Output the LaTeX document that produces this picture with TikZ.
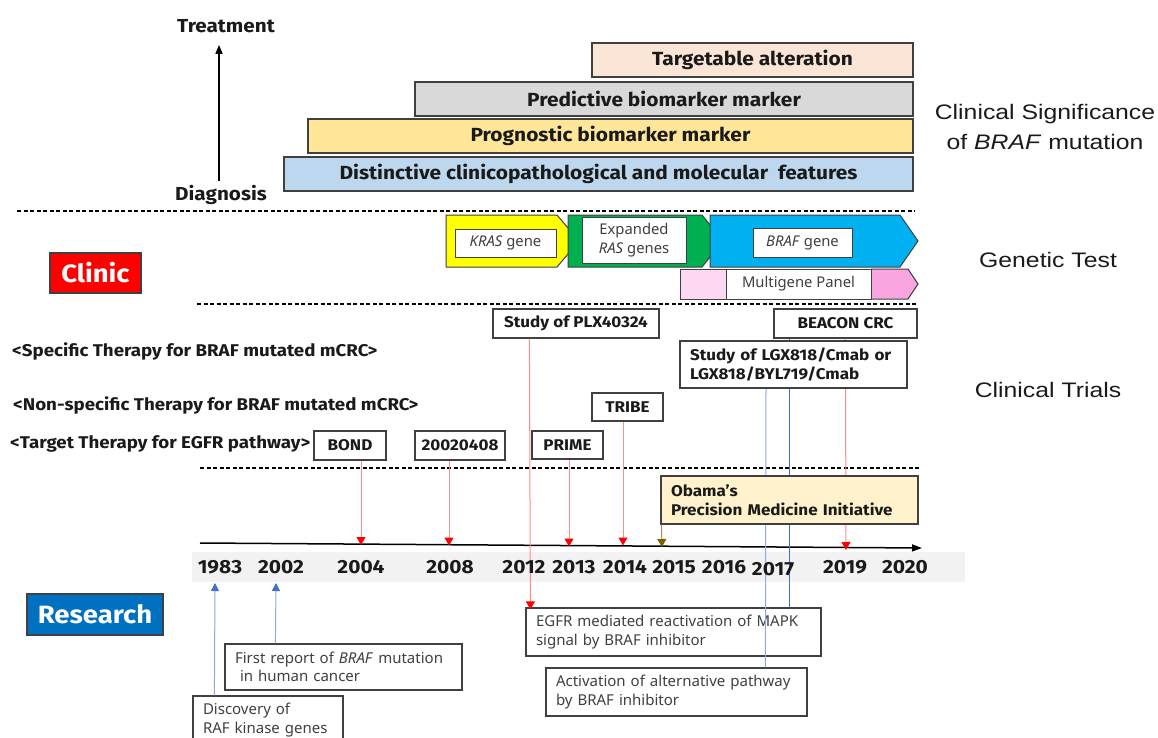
\documentclass[tikz,border=0pt]{standalone}
\usepackage{fontspec}
\setmainfont{Fira Sans}[FakeStretch=1.1]
\newfontfamily\arialf{Liberation Sans}[FakeStretch=1.18]
\newfontfamily\regf{Noto Sans}
\usetikzlibrary{arrows.meta}
\definecolor{bd}{HTML}{404040}
\definecolor{txt}{HTML}{1A1A1A}
\definecolor{peach}{HTML}{FBE5D6}
\definecolor{lgray}{HTML}{D9D9D9}
\definecolor{lyel}{HTML}{FFE699}
\definecolor{lblue}{HTML}{BDD7EE}
\definecolor{kyel}{HTML}{FFFF00}
\definecolor{kgreen}{HTML}{00B050}
\definecolor{kblue}{HTML}{00B0F0}
\definecolor{pink1}{HTML}{FCD8F2}
\definecolor{pink2}{HTML}{F9A6E0}
\definecolor{clinicred}{HTML}{FF0000}
\definecolor{resblue}{HTML}{0070C0}
\definecolor{obama}{HTML}{FFF2CC}
\definecolor{band}{HTML}{F2F2F2}
\definecolor{redln}{HTML}{FF8A8A}
\definecolor{redhd}{HTML}{FF0000}
\definecolor{bluelt}{HTML}{8FAADC}
\definecolor{bluedk}{HTML}{3F6FD0}
\definecolor{brownln}{HTML}{A89060}
\definecolor{brownhd}{HTML}{7F6000}
\newcommand\rbox[7]{\node[#6, minimum width={(#4-#2)*1pt}, minimum height={(#5-#3)*1pt}] (#1) at ({(#2+#4)/2},{(#3+#5)/2}) {#7};}
\newcommand\lbox[7]{\node[#6, inner xsep=10pt, text width={(#4-#2-20)*1pt}, minimum height={(#5-#3)*1pt}] (#1) at ({(#2+#4)/2},{(#3+#5)/2}) {#7};}
\begin{document}
\begin{tikzpicture}[x=1pt,y=-1pt,
  bar/.style={draw=bd, line width=1.3pt, inner sep=0pt, text=txt, font=\fontsize{19}{20}\selectfont\bfseries},
  hdr/.style={text=txt, inner sep=0pt, font=\fontsize{18.8}{20}\selectfont\bfseries},
  sect/.style={text=txt, inner sep=0pt, align=center, font=\arialf\fontsize{21}{30}\selectfont},
  tag/.style={draw=bd, line width=1.2pt, inner sep=0pt, text=white, font=\fontsize{25}{28}\selectfont\bfseries},
  cat/.style={text=txt, inner sep=0pt, anchor=west, font=\fontsize{17}{18}\selectfont\bfseries},
  trial/.style={draw=bd, fill=white, line width=1.2pt, inner sep=0pt, text=txt, font=\fontsize{15.5}{18.5}\selectfont\bfseries},
  trialL/.style={trial, align=left},
  gene/.style={draw=bd, fill=white, line width=1pt, inner sep=0pt, text=bd, align=center, font=\regf\fontsize{14.8}{18.5}\selectfont},
  res/.style={draw=bd, fill=white, line width=1.2pt, inner ysep=0pt, text=bd, align=left, font=\regf\fontsize{15}{18.5}\selectfont},
  year/.style={text=txt, inner sep=0pt, font=\fontsize{19}{20}\selectfont\bfseries},
  dashsep/.style={line width=1.3pt, dash pattern=on 4pt off 2.5pt},
  rl/.style={draw=redln, line width=1pt, -{Triangle[width=9pt,length=8pt,color=redhd]}},
  bl/.style={draw=bluelt, line width=1pt},
  bdk/.style={draw=bluedk, line width=1pt},
  blu/.style={draw=bluelt, line width=1pt, -{Triangle[width=8pt,length=8pt,color=bluedk]}},
  brl/.style={draw=brownln, line width=1pt, -{Triangle[width=9pt,length=8pt,color=brownhd]}},
]
\useasboundingbox (0,0) rectangle (1158,738);

% ---- Clinical significance ----
\node[hdr] (treat) at (226,26) {Treatment};
\node[hdr] (diag) at (221,195) {Diagnosis};
\draw[line width=1.5pt, -{Triangle[width=7pt,length=9pt]}] ([xshift=-2pt,yshift=4pt]diag.north) -- ([xshift=-7pt,yshift=-12pt]treat.south);

\rbox{targ}{592}{43}{913}{77}{bar, fill=peach}{Targetable alteration}
\rbox{pred}{415}{82}{913}{116}{bar, fill=lgray}{Predictive biomarker marker}
\rbox{prog}{308}{119}{913}{153}{bar, fill=lyel}{Prognostic biomarker marker}
\rbox{dist}{284}{157}{913}{191}{bar, fill=lblue}{Distinctive clinicopathological and molecular\ \ features}

\node[sect] (cs) at (1045,127) {Clinical Significance\\of \textit{BRAF} mutation};

% ---- separators ----
\coordinate (d1a) at (17,211); \coordinate (d1b) at (915,211);
\coordinate (d2a) at (197,304); \coordinate (d2b) at (917,304);
\coordinate (d3a) at (200,468); \coordinate (d3b) at (921,468);
\draw[dashsep] (d1a) -- (d1b);
\draw[dashsep] (d2a) -- (d2b);
\draw[dashsep] (d3a) -- (d3b);

% ---- Clinic / Research tags ----
\rbox{clinic}{50}{253}{141}{293}{tag, fill=clinicred}{Clinic}
\rbox{research}{27}{594}{163}{635}{tag, fill=resblue}{Research}

% ---- Genetic test ----
\draw[draw=bd, line width=1pt, fill=kyel] (446,215) -- (557,215) -- (579,241) -- (557,267) -- (446,267) -- cycle;
\draw[draw=bd, line width=1pt, fill=kgreen] (568,215) -- (702,215) -- (723,241) -- (702,267) -- (568,267) -- cycle;
\draw[draw=bd, line width=1pt, fill=kblue] (710,215) -- (900,215) -- (918,241) -- (900,267) -- (710,267) -- cycle;
\rbox{kras}{455}{229}{556}{257}{gene}{\textit{KRAS} gene}
\rbox{eras}{582}{217}{686}{263}{gene}{Expanded\\\textit{RAS} genes}
\rbox{braf}{753}{228}{852}{257}{gene}{\textit{BRAF} gene}

\fill[pink1] (680,269) rectangle (726,299);
\fill[pink2] (871,269) -- (908,269) -- (918,284) -- (908,299) -- (871,299) -- cycle;
\rbox{mgp}{726}{269}{871}{299}{gene}{Multigene Panel}
\draw[draw=bd, line width=1pt] (726,269) -- (680,269) -- (680,299) -- (726,299);
\draw[draw=bd, line width=1pt] (871,269) -- (908,269) -- (918,284) -- (908,299) -- (871,299);

\node[sect] (gt) at (1048,260) {Genetic Test};
\node[sect] (ct) at (1048,390) {Clinical Trials};

% ---- category labels ----
\node[cat] (c1) at (12,351) {<Specific Therapy for BRAF mutated mCRC>};
\node[cat] (c2) at (13,405) {<Non-specific Therapy for BRAF mutated mCRC>};
\node[cat] (c3) at (10,444) {<Target Therapy for EGFR pathway>};

% ---- timeline band & axis ----
\fill[band] (192,552) rectangle (965,582);
\coordinate (ax0) at (200,543);
\coordinate (ax1) at (922,548);
\draw[line width=1.5pt, -{Triangle[width=7pt,length=10pt]}] (ax0) -- (ax1);

% axis target points
\coordinate (t2004) at (361,545);
\coordinate (t2008) at (449,545.5);
\coordinate (t2013) at (569,546.5);
\coordinate (t2014) at (623,545.5);
\coordinate (t2015) at (662,547);
\coordinate (t2019) at (846,550);

% ---- research boxes ----
\lbox{first}{225}{644}{462}{690}{res}{First report of \textit{BRAF} mutation\\\ in human cancer}
\lbox{disc}{193}{696}{343}{744}{res}{Discovery of\\RAF kinase genes}
\lbox{egfr}{526}{608}{821}{656}{res}{EGFR mediated reactivation of MAPK\\signal by BRAF inhibitor}
\lbox{act}{546}{668}{807}{716}{res}{Activation of alternative pathway\\by BRAF inhibitor}

% ---- trial boxes ----
\rbox{bond}{314}{431}{386}{460}{trial}{BOND}
\rbox{b2002}{415}{431}{505}{460}{trial}{20020408}
\rbox{prime}{532}{431}{603}{459}{trial}{PRIME}
\rbox{tribe}{592}{393}{663}{421}{trial}{TRIBE}
\rbox{plx}{493}{309}{659}{338}{trial}{Study of PLX40324}
\rbox{beacon}{774}{309}{917}{338}{trial}{BEACON CRC}

% ---- connectors behind later boxes ----
\coordinate (lgxb) at (766,388);
\draw[bl] (lgxb) -- ([xshift=220pt]act.north west);
\draw[bdk] ([xshift=16pt]beacon.south west) -- ([xshift=264pt]egfr.north west);
\draw[rl] ([xshift=72pt]beacon.south west) -- (t2019);
\draw[rl] ([xshift=37pt]plx.south west) -- ([xshift=5pt,yshift=-2pt]egfr.north west);

\lbox{lgx}{680}{341}{907}{388}{trialL}{Study of LGX818/Cmab or\\LGX818/BYL719/Cmab}
\lbox{obm}{661}{476}{918}{524}{trialL, fill=obama}{Obama’s\\Precision Medicine Initiative}

\draw[rl] ([xshift=11pt]bond.south) -- (t2004);
\draw[rl] ([xshift=-11pt]b2002.south) -- (t2008);
\draw[rl] ([xshift=1.5pt]prime.south) -- (t2013);
\draw[rl] ([xshift=-4.5pt]tribe.south) -- (t2014);
\draw[brl] ([xshift=1pt]obm.south west) -- (t2015);

% ---- years ----
\node[year] (y1983) at (220,567) {1983};
\node[year] (y2002) at (281,567) {2002};
\node[year] (y2004) at (361,567) {2004};
\node[year] (y2008) at (450,567) {2008};
\node[year] (y2012) at (524,567) {2012};
\node[year] (y2013) at (574,567) {2013};
\node[year] (y2014) at (625,567) {2014};
\node[year] (y2015) at (674,567) {2015};
\node[year] (y2016) at (724,567) {2016};
\node[year] (y2017) at (773,569) {2017};
\node[year] (y2019) at (845,567) {2019};
\node[year] (y2020) at (905,567) {2020};

% ---- research arrows ----
\draw[blu] ([xshift=22pt]disc.north west) -- (215,583);
\draw[blu] ([xshift=51pt]first.north west) -- (276,583);
\end{tikzpicture}
\end{document}
